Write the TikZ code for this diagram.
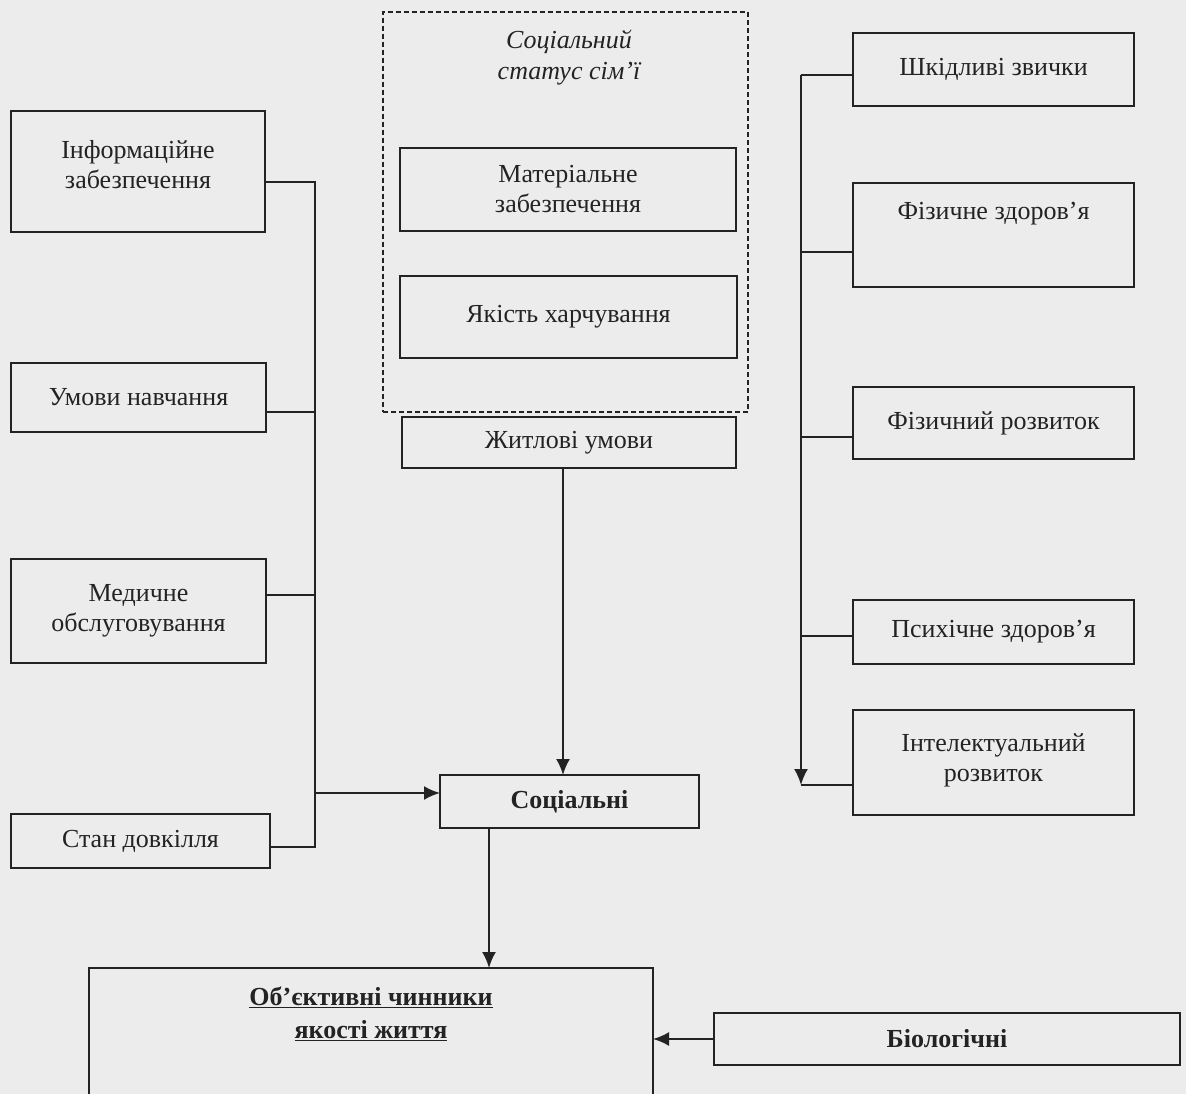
\documentclass[tikz,border=0pt]{standalone}
\usepackage{fontspec}
\setmainfont{Liberation Serif}
\usetikzlibrary{arrows.meta,calc}
\definecolor{bg}{RGB}{236,236,236}
\definecolor{ink}{RGB}{35,35,35}
\tikzset{
  box/.style={draw=ink, line width=2pt, inner sep=0pt, outer sep=0pt, align=center,
    anchor=north west, text=ink, font=\fontsize{26}{30}\selectfont},
  bbox/.style={box, font=\fontsize{26}{30}\selectfont\bfseries},
  dashbox/.style={draw=ink, line width=1.4pt, dash pattern=on 5pt off 3pt, inner sep=0pt,
    outer sep=0pt, anchor=north west},
  txt/.style={text=ink, align=center, inner sep=0pt, font=\fontsize{26}{30}\selectfont},
  conn/.style={draw=ink, line width=2pt},
  arr/.style={conn, -{Latex[length=16pt,width=14pt]}}
}
\begin{document}
\begin{tikzpicture}[x=1pt,y=-1pt]
\useasboundingbox (0,0) rectangle (1186,1094);
\clip (0,0) rectangle (1186,1094);
\fill[bg] (0,0) rectangle (1186,1094);

% left column
\node[box, minimum width=254pt, minimum height=121pt, text depth=14pt] (info) at (11,111) {Інформаційне\\забезпечення};
\node[box, minimum width=255pt, minimum height=69pt] (umovy) at (11,363) {Умови навчання};
\node[box, minimum width=255pt, minimum height=104pt] (med) at (11,559) {Медичне\\обслуговування};
\node[box, minimum width=259pt, minimum height=54pt] (stan) at (11,814) {Стан довкілля};

% middle column
\node[dashbox, minimum width=365pt, minimum height=400pt] (ss) at (383,12) {};
\node[txt, font=\fontsize{26}{31}\selectfont\itshape] (sst) at (569,58) {Соціальний\\статус сім’ї};
\node[box, minimum width=336pt, minimum height=83pt] (mat) at (400,148) {Матеріальне\\забезпечення};
\node[box, minimum width=337pt, minimum height=82pt] (yak) at (400,276) {Якість харчування};
\node[box, minimum width=334pt, minimum height=51pt] (zhyt) at (402,417) {Житлові умови};
\node[bbox, minimum width=259pt, minimum height=53pt] (soc) at (440,775) {Соціальні};

% right column
\node[box, minimum width=281pt, minimum height=73pt] (shk) at (853,33) {Шкідливі звички};
\node[box, minimum width=281pt, minimum height=104pt] (fzd) at (853,183) {};
\node[txt] (fzdt) at (993.5,214) {Фізичне здоров’я};
\node[box, minimum width=281pt, minimum height=72pt] (fzr) at (853,387) {Фізичний розвиток};
\node[box, minimum width=281pt, minimum height=64pt] (psy) at (853,600) {Психічне здоров’я};
\node[box, minimum width=281pt, minimum height=105pt, text depth=10pt] (intel) at (853,710) {Інтелектуальний\\розвиток};

% bottom
\node[box, minimum width=564pt, minimum height=200pt] (obj) at (89,968) {};
\node[txt, font=\fontsize{26}{33}\selectfont\bfseries] (objt) at (371,1014) {\underline{Об’єктивні чинники}\\\underline{якості життя}};
\node[bbox, minimum width=466pt, minimum height=52pt] (bio) at (714,1013) {Біологічні};

% left bus
\coordinate (lb1) at (315,182);
\coordinate (lb2) at (315,847);
\draw[conn] (info.east |- lb1) -- (lb1) -- (lb2) -- (stan.east |- lb2);
\draw[conn] (umovy.east |- 0,412) -- (lb1 |- 0,412);
\draw[conn] (med.east |- 0,595) -- (lb1 |- 0,595);
\draw[arr] (lb1 |- 0,793) -- (soc.west |- 0,793);

% right bus
\coordinate (rb1) at (801,75);
\coordinate (rb2) at (801,785);
\draw[conn] (shk.west |- rb1) -- (rb1);
\draw[arr] (rb1) -- (rb2);
\draw[conn] (rb2) -- (intel.west |- rb2);
\draw[conn] (rb1 |- 0,252) -- (fzd.west |- 0,252);
\draw[conn] (rb1 |- 0,437) -- (fzr.west |- 0,437);
\draw[conn] (rb1 |- 0,636) -- (psy.west |- 0,636);

% arrows
\draw[arr] (zhyt.south -| 563,0) -- (soc.north -| 563,0);
\draw[arr] (soc.south -| 489,0) -- (obj.north -| 489,0);
\draw[arr] (bio.west) -- (bio.west -| obj.east);
\end{tikzpicture}
\end{document}
